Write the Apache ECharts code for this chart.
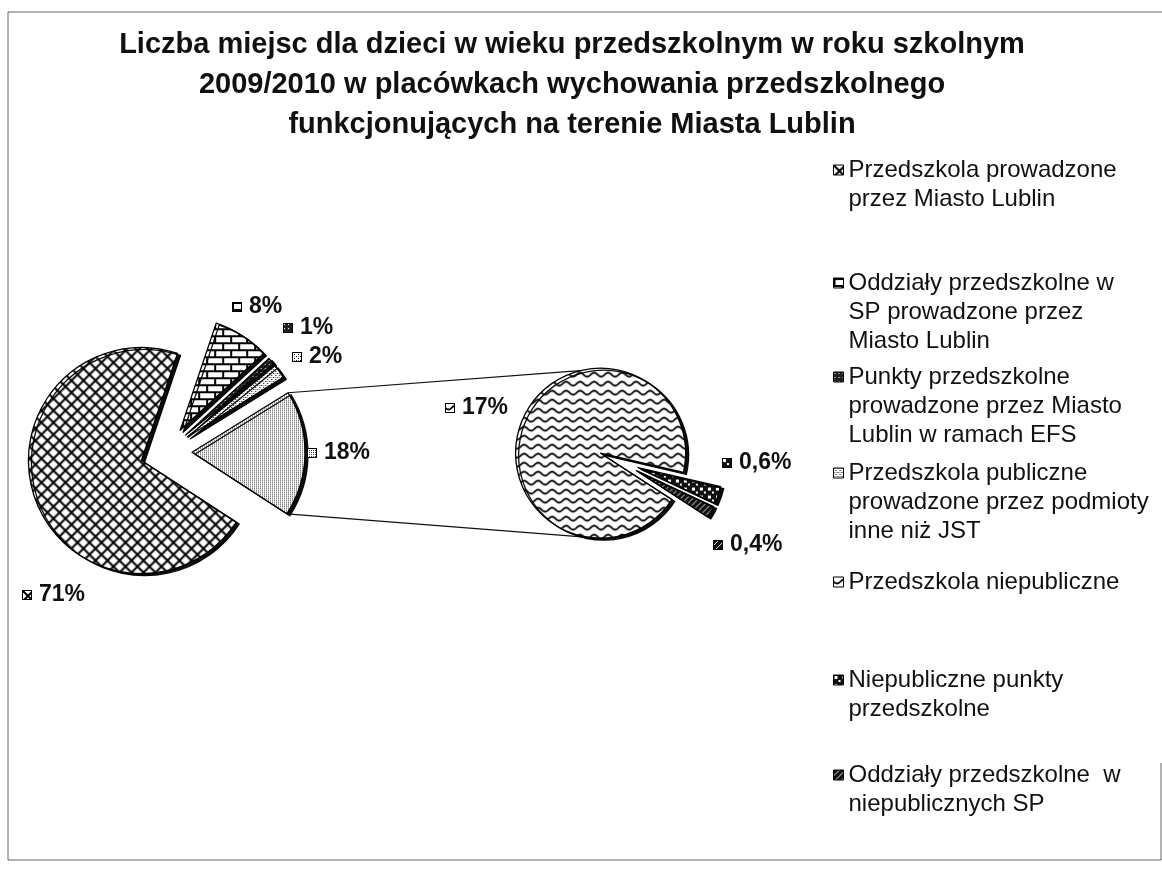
<!DOCTYPE html>
<html>
<head>
    <meta charset="utf-8">
    <title>Liczba miejsc dla dzieci w wieku przedszkolnym</title>
    <script src="https://cdn.jsdelivr.net/npm/echarts@6/dist/echarts.min.js"></script>
    <style>
        html, body { margin: 0; padding: 0; background: #fff; }
        #chart { width: 1162px; height: 869px; }
    </style>
</head>
<body>
<div id="chart"></div>
<script>
    // dane: wykres kołowy główny (ostatni wycinek = "Inne", rozbity na drugim kole)
    var mainNames = [
        'Przedszkola prowadzone przez Miasto Lublin',
        'Oddziały przedszkolne w SP prowadzone przez Miasto Lublin',
        'Punkty przedszkolne prowadzone przez Miasto Lublin w ramach EFS',
        'Przedszkola publiczne prowadzone przez podmioty inne niż JST',
        'Inne'
    ];
    var mainValues = [71, 8, 1, 2, 18];

    // dane: koło pomocnicze
    var subNames = [
        'Przedszkola niepubliczne',
        'Niepubliczne punkty przedszkolne',
        'Oddziały przedszkolne w niepublicznych SP'
    ];
    var subValues = [17, 0.6, 0.4];

    // legenda (kolejność i łamanie linii jak w oryginale)
    var legendNames = [mainNames[0], mainNames[1], mainNames[2], mainNames[3], subNames[0], subNames[1], subNames[2]];
    var legendLines = [
        ['Przedszkola prowadzone', 'przez Miasto Lublin'],
        ['Oddziały przedszkolne w', 'SP prowadzone przez', 'Miasto Lublin'],
        ['Punkty przedszkolne', 'prowadzone przez Miasto', 'Lublin w ramach EFS'],
        ['Przedszkola publiczne', 'prowadzone przez podmioty', 'inne niż JST'],
        ['Przedszkola niepubliczne'],
        ['Niepubliczne punkty', 'przedszkolne'],
        ['Oddziały przedszkolne  w', 'niepublicznych SP']
    ];

    var titleText = 'Liczba miejsc dla dzieci w wieku przedszkolnym w roku szkolnym\n' +
        '2009/2010 w placówkach wychowania przedszkolnego\n' +
        'funkcjonujących na terenie Miasta Lublin';

    // układ
    var FONT = 'Liberation Sans, Arial, sans-serif';
    var START = -33;
    var mainCenter = [166, 452], mainR = 113, mainExplode = 26;
    var subCenter = [619, 461], subR = 85, subExplode = 20;
    var linkAngles = [104, 264];   // punkty styku linii łączących na kole pomocniczym
    var legendTops = [170, 283, 377, 473, 582, 680, 775];
    var LH = 29;
    var mainLabelPos = [[22, 595], [232, 307], [283, 328], [292, 357], [307, 453]];
    var subLabelPos = [[445, 408], [722, 463], [713, 545]];

    // wzory wypełnień (skan czarno-biały)
    function tile(w, h, draw) {
        var c = document.createElement('canvas');
        c.width = w; c.height = h;
        var ctx = c.getContext('2d');
        ctx.fillStyle = '#fff';
        ctx.fillRect(0, 0, w, h);
        draw(ctx, w, h);
        return c;
    }
    var patLattice = tile(12, 12, function (ctx) {
        ctx.strokeStyle = '#000'; ctx.lineWidth = 2;
        ctx.beginPath();
        ctx.moveTo(-1, -1); ctx.lineTo(13, 13);
        ctx.moveTo(13, -1); ctx.lineTo(-1, 13);
        ctx.stroke();
    });
    var patBrick = tile(16, 14, function (ctx) {
        ctx.fillStyle = '#000';
        ctx.fillRect(0, 0, 16, 2);
        ctx.fillRect(0, 7, 16, 2);
        ctx.fillRect(0, 0, 2, 7);
        ctx.fillRect(8, 7, 2, 7);
    });
    var patDark = tile(4, 4, function (ctx) {
        ctx.fillStyle = '#222'; ctx.fillRect(0, 0, 4, 4);
        ctx.fillStyle = '#fff'; ctx.fillRect(1, 1, 1, 1);
    });
    var patDots = tile(4, 4, function (ctx) {
        ctx.fillStyle = '#000';
        ctx.fillRect(0, 0, 1, 1); ctx.fillRect(2, 2, 1, 1);
        ctx.fillStyle = '#888';
        ctx.fillRect(2, 0, 1, 1);
    });
    var patStipple = tile(2, 2, function (ctx) {
        ctx.fillStyle = '#444'; ctx.fillRect(0, 0, 1, 1);
    });
    var patWave = tile(14, 9, function (ctx) {
        ctx.strokeStyle = '#000'; ctx.lineWidth = 1.8;
        ctx.beginPath();
        for (var x = -1; x <= 15; x += 0.5) {
            var y = 4.5 + 2 * Math.sin(2 * Math.PI * x / 14);
            if (x === -1) ctx.moveTo(x, y); else ctx.lineTo(x, y);
        }
        ctx.stroke();
    });
    var patChecker = tile(8, 8, function (ctx) {
        ctx.fillStyle = '#111'; ctx.fillRect(0, 0, 8, 8);
        ctx.fillStyle = '#fff'; ctx.fillRect(1, 1, 3, 3); ctx.fillRect(5, 5, 2, 2);
    });
    var patDiag = tile(6, 6, function (ctx) {
        ctx.fillStyle = '#111'; ctx.fillRect(0, 0, 6, 6);
        ctx.strokeStyle = '#ddd'; ctx.lineWidth = 1;
        ctx.beginPath(); ctx.moveTo(0, 6); ctx.lineTo(6, 0); ctx.stroke();
    });

    var mainPatterns = [patLattice, patBrick, patDark, patDots, patStipple];
    var subPatterns = [patWave, patChecker, patDiag];

    function swatch(pat) {
        var c = document.createElement('canvas');
        c.width = 10; c.height = 10;
        var ctx = c.getContext('2d');
        ctx.fillStyle = ctx.createPattern(pat, 'repeat');
        ctx.fillRect(0, 0, 10, 10);
        ctx.strokeStyle = '#000'; ctx.lineWidth = 1;
        ctx.strokeRect(0.5, 0.5, 9, 9);
        return c;
    }

    function sliceStyle(pat) {
        return {
            color: {image: pat, repeat: 'repeat'},
            borderColor: '#000',
            borderWidth: 1.3,
            shadowColor: 'rgba(0,0,0,0.95)',
            shadowBlur: 0,
            shadowOffsetX: 3,
            shadowOffsetY: 2
        };
    }

    function pctText(v) {
        return String(v).replace('.', ',') + '%';
    }

    function buildData(names, values, pats) {
        return values.map(function (v, i) {
            var st = sliceStyle(pats[i]);
            return {name: names[i], value: v, selected: true, itemStyle: st, select: {itemStyle: st}};
        });
    }

    // etykiety procentowe z małym kluczem wzoru
    function labelEls(values, pats, positions) {
        return values.map(function (v, i) {
            return {
                type: 'text', silent: true, z: 10,
                x: positions[i][0], y: positions[i][1],
                style: {
                    text: '{i|}{t|' + pctText(v) + '}',
                    align: 'left', textAlign: 'left',
                    verticalAlign: 'middle', textVerticalAlign: 'middle',
                    rich: {
                        i: {width: 10, height: 10, verticalAlign: 'middle', backgroundColor: {image: swatch(pats[i])}},
                        t: {fontFamily: FONT, fontSize: 23, fontWeight: 'bold', fill: '#111', color: '#111', padding: [0, 0, 0, 7]}
                    }
                }
            };
        });
    }

    // geometria linii łączących, liczona z danych
    function sum(a) { return a.reduce(function (s, v) { return s + v; }, 0); }
    var total = sum(mainValues);
    var before = sum(mainValues.slice(0, mainValues.length - 1));
    var aStart = (START - 360 * before / total) * Math.PI / 180;
    var aEnd = (START - 360) * Math.PI / 180;
    var aMid = (aStart + aEnd) / 2;
    var vx = mainCenter[0] + mainExplode * Math.cos(aMid);
    var vy = mainCenter[1] - mainExplode * Math.sin(aMid);
    var subMid = (START - 180 * subValues[0] / sum(subValues)) * Math.PI / 180;
    var sx = subCenter[0] + subExplode * Math.cos(subMid);
    var sy = subCenter[1] - subExplode * Math.sin(subMid);
    function subPoint(deg) {
        var a = deg * Math.PI / 180;
        return [sx + subR * Math.cos(a), sy - subR * Math.sin(a)];
    }
    var linkTop = [[vx + mainR * Math.cos(aStart), vy - mainR * Math.sin(aStart)], subPoint(linkAngles[0])];
    var linkBottom = [[vx + mainR * Math.cos(aEnd), vy - mainR * Math.sin(aEnd)], subPoint(linkAngles[1])];

    // ikona legendy wyrównana do pierwszej linii tekstu: puste linie dokładane na górze
    var legends = legendNames.map(function (name, i) {
        var n = legendLines[i].length;
        var pad = [];
        for (var k = 1; k < n; k++) pad.push(' ');
        var txt = pad.concat(legendLines[i]).join('\n');
        return {
            orient: 'vertical',
            left: 833,
            top: legendTops[i] - LH * (2 * n - 1) / 2,
            padding: 0,
            itemWidth: 10,
            itemHeight: 10,
            icon: 'rect',
            selectedMode: false,
            data: [name],
            itemStyle: {borderColor: '#000', borderWidth: 1},
            formatter: function () { return txt; },
            textStyle: {fontFamily: FONT, fontSize: 24, lineHeight: LH, color: '#111'}
        };
    });

    var chart = echarts.init(document.getElementById('chart'));

    var graphics = [
        {
            type: 'polyline', z: 0, silent: true,
            shape: {points: [[1161, 763], [1161, 860], [8, 860], [8, 12], [1162, 12]]},
            style: {stroke: '#666', lineWidth: 1, fill: null}
        },
        {
            type: 'polyline', z: 0, silent: true,
            shape: {points: linkTop},
            style: {stroke: '#111', lineWidth: 1.2, fill: null}
        },
        {
            type: 'polyline', z: 0, silent: true,
            shape: {points: linkBottom},
            style: {stroke: '#111', lineWidth: 1.2, fill: null}
        },
        {
            type: 'text', silent: true, z: 10,
            x: 572, y: 25,
            style: {
                text: titleText,
                align: 'center', textAlign: 'center',
                verticalAlign: 'top', textVerticalAlign: 'top',
                fontFamily: FONT, fontSize: 29, fontWeight: 'bold',
                lineHeight: 40, fill: '#111'
            }
        }
    ].concat(labelEls(mainValues, mainPatterns, mainLabelPos), labelEls(subValues, subPatterns, subLabelPos));

    var option = {
        backgroundColor: '#fff',
        animation: false,
        legend: legends,
        graphic: graphics,
        series: [
            {
                name: 'main',
                type: 'pie',
                center: mainCenter,
                radius: mainR,
                startAngle: START,
                clockwise: true,
                selectedMode: 'multiple',
                selectedOffset: mainExplode,
                silent: true,
                label: {show: false},
                labelLine: {show: false},
                data: buildData(mainNames, mainValues, mainPatterns)
            },
            {
                name: 'sub',
                type: 'pie',
                center: subCenter,
                radius: subR,
                startAngle: START,
                clockwise: true,
                selectedMode: 'multiple',
                selectedOffset: subExplode,
                silent: true,
                label: {show: false},
                labelLine: {show: false},
                data: buildData(subNames, subValues, subPatterns)
            }
        ]
    };

    chart.setOption(option);
</script>
</body>
</html>
